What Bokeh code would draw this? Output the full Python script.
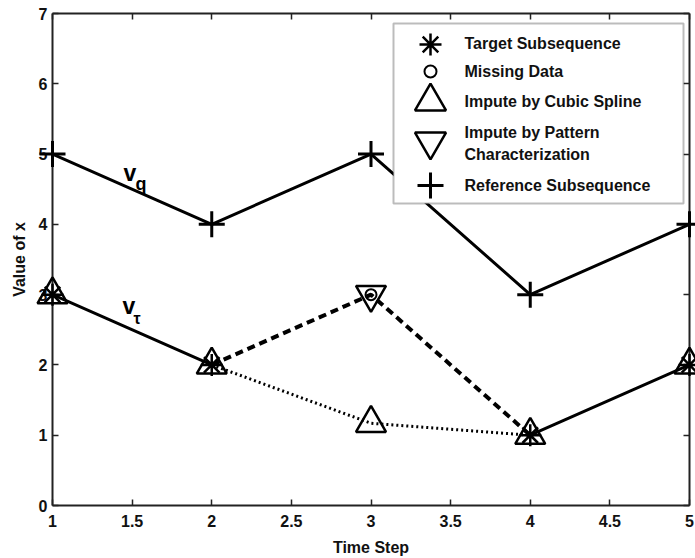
from bokeh.plotting import figure
from bokeh.models import Range1d, LinearAxis, FixedTicker, CustomJSTickFormatter, BoxAnnotation
from bokeh.core.properties import value
from bokeh.embed import file_html
from bokeh.resources import INLINE

# ---- data ----
time_steps = [1, 2, 3, 4, 5]
reference = [5, 4, 5, 3, 4]
target_x = [1, 2, 4, 5]
target_y = [3, 2, 1, 2]
missing_x = [3]
missing_y = [3]
spline_y = [3, 2, 1.17, 1, 2]
pattern_x = [3]
pattern_y = [3]
x_ticks = [1, 1.5, 2, 2.5, 3, 3.5, 4, 4.5, 5]
y_ticks = [0, 1, 2, 3, 4, 5, 6, 7]
legend_labels = ["Target Subsequence", "Missing Data", "Impute by Cubic Spline",
                 "Impute by Pattern", "Characterization", "Reference Subsequence"]

FONT = "Liberation Sans"
W, H = 695, 558
LEFT, RIGHT, TOP, BOTTOM = 52, 689, 13, 505
X0, X1, Y0, Y1 = 1, 5, 0, 7

def dx(px):
    return X0 + (px - LEFT) * (X1 - X0) / (RIGHT - LEFT)

def dy(py):
    return Y0 + (BOTTOM - py) * (Y1 - Y0) / (BOTTOM - TOP)

p = figure(width=W, height=H, output_backend="svg", toolbar_location=None,
           x_range=Range1d(X0, X1), y_range=Range1d(Y0, Y1),
           min_border_left=LEFT, min_border_right=W - RIGHT,
           min_border_top=TOP, min_border_bottom=H - BOTTOM,
           x_axis_label="Time Step", y_axis_label="Value of x")
p.grid.visible = False
p.outline_line_color = None
p.background_fill_color = "white"
p.border_fill_color = "white"

fmt = CustomJSTickFormatter(code="return tick.toString();")
for ax in p.xaxis:
    ax.ticker = FixedTicker(ticks=x_ticks)
    ax.formatter = fmt
for ax in p.yaxis:
    ax.ticker = FixedTicker(ticks=y_ticks)
    ax.formatter = fmt

def style_axis(ax, labels=True):
    ax.axis_line_color = "#222222"
    ax.axis_line_width = 2
    ax.major_tick_line_color = "#222222"
    ax.major_tick_line_width = 1.5
    ax.major_tick_in = 6
    ax.major_tick_out = 0
    ax.minor_tick_line_color = None
    ax.major_label_text_font = FONT
    ax.major_label_text_font_style = "bold"
    ax.major_label_text_font_size = "16px"
    ax.major_label_text_color = "#111111"
    ax.axis_label_text_font = FONT
    ax.axis_label_text_font_style = "bold"
    ax.axis_label_text_font_size = "16px"
    ax.axis_label_text_color = "#111111"
    if not labels:
        ax.major_label_text_alpha = 0
        ax.major_label_text_font_size = "1px"

for ax in p.xaxis + p.yaxis:
    style_axis(ax)
p.xaxis.major_label_standoff = 9
p.xaxis.axis_label_standoff = 9
p.yaxis.major_label_standoff = 5
p.yaxis.axis_label_standoff = 8

top_ax = LinearAxis(ticker=FixedTicker(ticks=x_ticks))
right_ax = LinearAxis(ticker=FixedTicker(ticks=y_ticks))
style_axis(top_ax, labels=False)
style_axis(right_ax, labels=False)
p.add_layout(top_ax, "above")
p.add_layout(right_ax, "right")

# ---- lines ----
nan = float("nan")
target_line_x = [target_x[0], target_x[1], nan, target_x[2], target_x[3]]
target_line_y = [target_y[0], target_y[1], nan, target_y[2], target_y[3]]
p.line(time_steps, reference, line_color="black", line_width=3)
p.line(target_line_x, target_line_y, line_color="black", line_width=3)
p.line([target_x[1], pattern_x[0], target_x[2]], [target_y[1], pattern_y[0], target_y[2]],
       line_color="black", line_width=4, line_dash="8 5")
p.line(time_steps[1:4], spline_y[1:4], line_color="black", line_width=3, line_dash="2 3")

# ---- markers (not clipped at the frame edge) ----
LV = "annotation"
p.scatter(time_steps, spline_y, marker="triangle", size=30, fill_color=None,
          line_color="black", line_width=2.5, level=LV)
p.scatter(pattern_x, pattern_y, marker="inverted_triangle", size=30, fill_color=None,
          line_color="black", line_width=2.5, level=LV)
p.scatter(missing_x, missing_y, marker="circle", size=11, fill_color=None,
          line_color="black", line_width=2, level=LV)
p.scatter(target_x, target_y, marker="asterisk", size=22, line_color="black",
          line_width=2.5, level=LV)
p.scatter(time_steps, reference, marker="cross", size=26, line_color="black",
          line_width=3, level=LV)

# ---- curve labels ----
def label(px, py, txt, size):
    p.text(x=[dx(px)], y=[dy(py)], text=[txt], text_font=value(FONT), text_font_style="bold",
           text_font_size=size, text_align="left", text_baseline="alphabetic",
           text_color="black")

label(123, 172, "v", "23px")
label(135, 183, "q", "18px")
label(122, 305, "v", "23px")
label(133, 318, "τ", "16px")

# ---- legend (drawn as a key box) ----
box = BoxAnnotation(left=dx(393), right=dx(683), top=dy(23), bottom=dy(203),
                    fill_color="white", fill_alpha=1, line_color="#222222", line_width=2,
                    level="annotation")
p.add_layout(box)

KX = dx(430)
p.scatter([KX], [dy(44)], marker="asterisk", size=22, line_color="black",
          line_width=2.5, level="overlay")
p.scatter([KX], [dy(71)], marker="circle", size=12, fill_color=None,
          line_color="black", line_width=2, level="overlay")
p.scatter([KX], [dy(101)], marker="triangle", size=31, fill_color=None,
          line_color="black", line_width=2.5, level="overlay")
p.scatter([KX], [dy(141)], marker="inverted_triangle", size=31, fill_color=None,
          line_color="black", line_width=2.5, level="overlay")
p.scatter([KX], [dy(185)], marker="cross", size=26, line_color="black",
          line_width=3, level="overlay")

label_rows = [43, 71, 101, 132, 154, 185]
p.text(x=[dx(464)] * len(label_rows), y=[dy(r) for r in label_rows], text=legend_labels,
       text_font=value(FONT), text_font_style="bold", text_font_size="16px",
       text_align="left", text_baseline="middle", text_color="#111111", level="overlay")

open("out.html", "w").write(file_html(p, INLINE))
